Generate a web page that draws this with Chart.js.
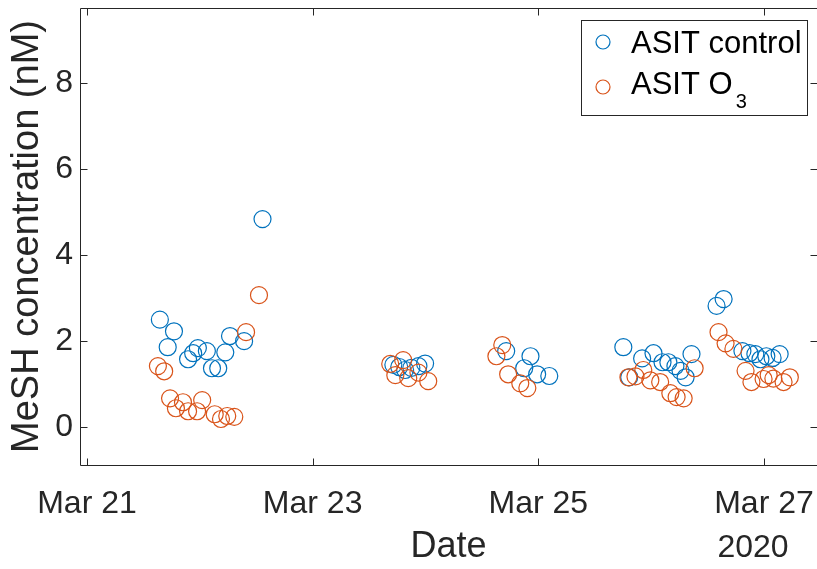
<!DOCTYPE html>
<html>
<head>
<meta charset="utf-8">
<script src="https://cdn.jsdelivr.net/npm/chart.js@4.4.1/dist/chart.umd.min.js"></script>
<style>
    html, body { margin: 0; padding: 0; background: #fff; }
</style>
</head>
<body>
<canvas id="chart" width="817" height="569"></canvas>
<script>
// sample times (local) and MeSH concentrations (nM)
const controlTimes = [
    '2020-03-21 15:30', '2020-03-21 17:10', '2020-03-21 18:30', '2020-03-21 21:30', '2020-03-21 22:35',
    '2020-03-21 23:35', '2020-03-22 01:30', '2020-03-22 02:35', '2020-03-22 03:55', '2020-03-22 05:25',
    '2020-03-22 06:25', '2020-03-22 09:25', '2020-03-22 13:20',
    '2020-03-23 17:10', '2020-03-23 18:25', '2020-03-23 19:40', '2020-03-23 21:00', '2020-03-23 22:30',
    '2020-03-23 23:55',
    '2020-03-24 17:10', '2020-03-24 21:00', '2020-03-24 22:20', '2020-03-24 23:45', '2020-03-25 02:20',
    '2020-03-25 18:05', '2020-03-25 19:20', '2020-03-25 22:05', '2020-03-26 00:30', '2020-03-26 02:25',
    '2020-03-26 03:40', '2020-03-26 05:10', '2020-03-26 06:15', '2020-03-26 07:20', '2020-03-26 08:35',
    '2020-03-26 13:55', '2020-03-26 15:25', '2020-03-26 19:25', '2020-03-26 20:55', '2020-03-26 22:10',
    '2020-03-26 23:15', '2020-03-27 00:30', '2020-03-27 01:50', '2020-03-27 03:20'
];
const controlValues = [
    2.50, 1.86, 2.23, 1.58, 1.72,
    1.84, 1.77, 1.37, 1.37, 1.74,
    2.12, 2.00, 4.84,
    1.45, 1.40, 1.33, 1.38, 1.42,
    1.48,
    1.77, 1.37, 1.65, 1.23, 1.19,
    1.86, 1.16, 1.60, 1.72, 1.51,
    1.51, 1.42, 1.31, 1.16, 1.70,
    2.82, 2.98, 1.77, 1.72, 1.70,
    1.58, 1.65, 1.61, 1.70
];

const ozoneTimes = [
    '2020-03-21 15:05', '2020-03-21 16:25', '2020-03-21 17:40', '2020-03-21 18:55', '2020-03-21 20:25',
    '2020-03-21 21:30', '2020-03-21 23:25', '2020-03-22 00:30', '2020-03-22 03:10', '2020-03-22 04:30',
    '2020-03-22 05:50', '2020-03-22 07:20', '2020-03-22 09:50', '2020-03-22 12:35',
    '2020-03-23 16:30', '2020-03-23 17:35', '2020-03-23 19:15', '2020-03-23 20:20', '2020-03-23 22:30',
    '2020-03-24 00:35',
    '2020-03-24 15:05', '2020-03-24 16:20', '2020-03-24 17:35', '2020-03-24 20:10', '2020-03-24 21:40',
    '2020-03-25 19:10', '2020-03-25 20:40', '2020-03-25 22:20', '2020-03-25 23:50', '2020-03-26 01:55',
    '2020-03-26 04:05', '2020-03-26 05:25', '2020-03-26 06:55', '2020-03-26 09:15',
    '2020-03-26 14:20', '2020-03-26 15:50', '2020-03-26 17:30', '2020-03-26 20:05', '2020-03-26 21:20',
    '2020-03-26 23:55', '2020-03-27 01:00', '2020-03-27 02:00', '2020-03-27 04:10', '2020-03-27 05:30'
];
const ozoneValues = [
    1.42, 1.30, 0.67, 0.44, 0.58,
    0.37, 0.37, 0.63, 0.30, 0.19,
    0.26, 0.24, 2.21, 3.07,
    1.47, 1.21, 1.56, 1.14, 1.27,
    1.07,
    1.65, 1.91, 1.23, 1.02, 0.91,
    1.16, 1.18, 1.33, 1.09, 1.05,
    0.79, 0.70, 0.67, 1.37,
    2.21, 1.95, 1.82, 1.31, 1.05,
    1.12, 1.21, 1.13, 1.05, 1.16
];

// x axis is "days since Mar 21 2020 00:00"
const xTickDays = [0, 2, 4, 6];
const xTickLabels = ['Mar 21', 'Mar 23', 'Mar 25', 'Mar 27'];
const yearLabel = '2020';
const yTicks = [0, 2, 4, 6, 8];

const BLUE = '#0072BD';
const ORANGE = '#D95319';
const AXIS = '#262626';
const FONT = '"Liberation Sans", Arial, Helvetica, sans-serif';

function toDay(s) {
    const day = parseInt(s.slice(8, 10), 10) - 21;
    const h = parseInt(s.slice(11, 13), 10);
    const m = parseInt(s.slice(14, 16), 10);
    return day + (h + m / 60) / 24;
}

function toPoints(times, values) {
    return times.map((t, i) => ({ x: toDay(t), y: values[i] }));
}

// MATLAB style box with inward ticks, the year label and the boxed legend
const matlabAxes = {
    id: 'matlabAxes',
    afterDraw(chart) {
        const ctx = chart.ctx;
        const area = chart.chartArea;
        const xs = chart.scales.x;
        const ys = chart.scales.y;
        const L = Math.round(area.left) + 0.5;
        const R = Math.round(area.right) + 0.5;
        const T = Math.round(area.top) + 0.5;
        const B = Math.round(area.bottom) + 0.5;
        const tl = 7;

        ctx.save();
        ctx.strokeStyle = AXIS;
        ctx.lineWidth = 1;
        ctx.beginPath();
        ctx.rect(L, T, R - L, B - T);
        xTickDays.forEach(v => {
            const px = Math.round(xs.getPixelForValue(v)) + 0.5;
            ctx.moveTo(px, B); ctx.lineTo(px, B - tl);
            ctx.moveTo(px, T); ctx.lineTo(px, T + tl);
        });
        yTicks.forEach(v => {
            const py = Math.round(ys.getPixelForValue(v)) + 0.5;
            ctx.moveTo(L, py); ctx.lineTo(L + tl, py);
            ctx.moveTo(R, py); ctx.lineTo(R - tl, py);
        });
        ctx.stroke();

        // year under the last date tick
        ctx.fillStyle = AXIS;
        ctx.font = '32px ' + FONT;
        ctx.textAlign = 'center';
        ctx.textBaseline = 'middle';
        ctx.fillText(yearLabel, xs.getPixelForValue(xTickDays[xTickDays.length - 1]) - 11, 548);

        // legend
        ctx.fillStyle = '#fff';
        ctx.fillRect(581.5, 20.5, 226, 95);
        ctx.strokeRect(581.5, 20.5, 226, 95);

        ctx.lineWidth = 1.2;
        ctx.strokeStyle = BLUE;
        ctx.beginPath(); ctx.arc(603, 42, 7, 0, Math.PI * 2); ctx.stroke();
        ctx.strokeStyle = ORANGE;
        ctx.beginPath(); ctx.arc(603, 87, 7, 0, Math.PI * 2); ctx.stroke();

        ctx.fillStyle = '#000';
        ctx.textAlign = 'left';
        ctx.textBaseline = 'alphabetic';
        ctx.font = '31px ' + FONT;
        ctx.fillText('ASIT control', 631, 53);
        ctx.fillText('ASIT O', 631, 94);
        const w = ctx.measureText('ASIT O').width;
        ctx.font = '20px ' + FONT;
        ctx.fillText('3', 631 + w + 3, 108);
        ctx.restore();
    }
};

const ctx = document.getElementById('chart').getContext('2d');
new Chart(ctx, {
    type: 'scatter',
    data: {
        datasets: [
            {
                label: 'ASIT control',
                data: toPoints(controlTimes, controlValues),
                borderColor: BLUE,
                backgroundColor: 'rgba(0,0,0,0)',
                pointRadius: 8.5,
                pointBorderWidth: 1.2,
                order: 1
            },
            {
                label: 'ASIT O₃',
                data: toPoints(ozoneTimes, ozoneValues),
                borderColor: ORANGE,
                backgroundColor: 'rgba(0,0,0,0)',
                pointRadius: 8.5,
                pointBorderWidth: 1.2,
                order: 0
            }
        ]
    },
    options: {
        responsive: false,
        animation: false,
        layout: { autoPadding: false, padding: { top: 8, right: 0, left: 0, bottom: 0 } },
        plugins: {
            legend: { display: false },
            tooltip: { enabled: false }
        },
        scales: {
            x: {
                type: 'linear',
                min: -0.062,
                max: 6.47,
                afterBuildTicks: s => { s.ticks = xTickDays.map(v => ({ value: v })); },
                afterFit: s => {
                    s.height = 104;
                    s.paddingLeft = 0;
                    s.paddingRight = 0;
                },
                grid: { display: false, drawTicks: false },
                border: { display: false },
                ticks: {
                    autoSkip: false,
                    maxRotation: 0,
                    padding: 18,
                    color: AXIS,
                    font: { family: FONT, size: 32, lineHeight: 1.35 },
                    callback: (v, i) => xTickLabels[i]
                },
                title: {
                    display: true,
                    text: 'Date',
                    color: AXIS,
                    font: { family: FONT, size: 36, lineHeight: 1.2 },
                    padding: { top: 0, bottom: 0 }
                }
            },
            y: {
                min: -0.88,
                max: 9.75,
                afterBuildTicks: s => { s.ticks = yTicks.map(v => ({ value: v })); },
                afterFit: s => {
                    s.width = 80;
                    s.paddingTop = 0;
                    s.paddingBottom = 0;
                },
                grid: { display: false, drawTicks: false },
                border: { display: false },
                ticks: {
                    padding: 7,
                    color: AXIS,
                    font: { family: FONT, size: 32 },
                    callback: v => String(v)
                },
                title: {
                    display: true,
                    text: 'MeSH concentration (nM)',
                    color: AXIS,
                    font: { family: FONT, size: 38, lineHeight: 1.2 },
                    padding: { top: 5, bottom: 0 }
                }
            }
        }
    },
    plugins: [matlabAxes]
});
</script>
</body>
</html>
